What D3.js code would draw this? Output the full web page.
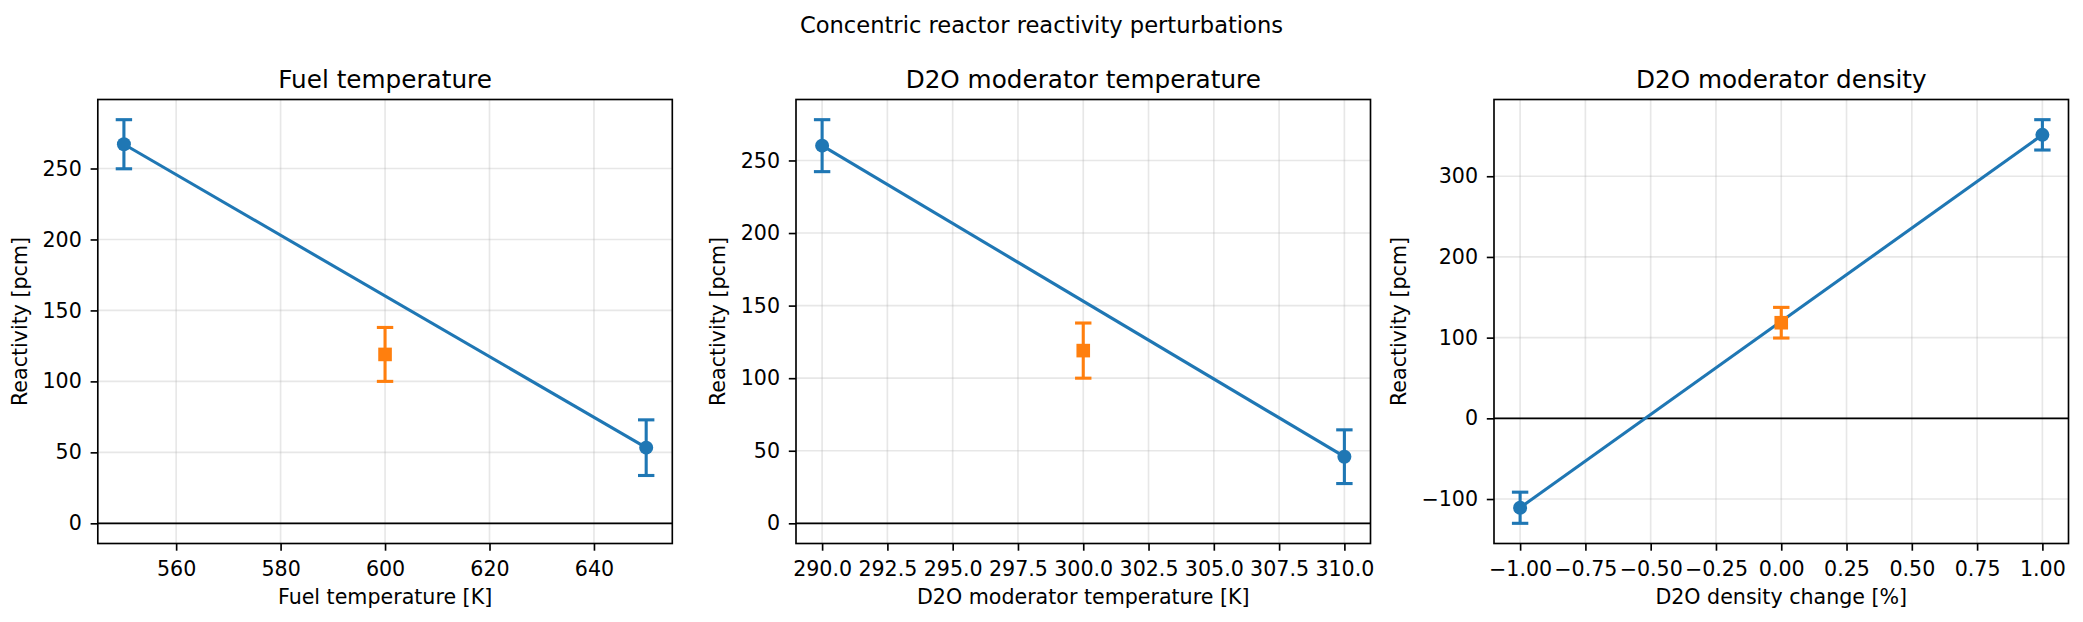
<!DOCTYPE html>
<html>
<head>
<meta charset="utf-8">
<script src="https://cdn.jsdelivr.net/npm/d3@7"></script>
<style>
  html, body { margin: 0; padding: 0; background: #fff; }
  svg { display: block; font-family: "DejaVu Sans", sans-serif; }
</style>
</head>
<body>
<svg id="chart" width="2083" height="622"></svg>
<script>
// ---- data ----
const suptitle = "Concentric reactor reactivity perturbations";
const titles = ["Fuel temperature", "D2O moderator temperature", "D2O moderator density"];
const xLabels = ["Fuel temperature [K]", "D2O moderator temperature [K]", "D2O density change [%]"];
const yLabel = "Reactivity [pcm]";

const fuelX = [550, 650];
const fuelY = [267.1, 53.3];
const fuelErr = [17.3, 19.6];

const modTempX = [290, 310];
const modTempY = [260.2, 45.9];
const modTempErr = [17.9, 18.5];

const densX = [-1, 1];
const densY = [-110.8, 351.3];
const densErr = [19.3, 18.8];

const refX = [600, 300, 0];
const refY = [119, 119, 118.5];
const refErr = [19, 19, 19];

const xTicks = [
  [560, 580, 600, 620, 640],
  [290, 292.5, 295, 297.5, 300, 302.5, 305, 307.5, 310],
  [-1, -0.75, -0.5, -0.25, 0, 0.25, 0.5, 0.75, 1]
];
const xTickFormats = ["d", ".1f", ".2f"];
const yTicks = [
  [0, 50, 100, 150, 200, 250],
  [0, 50, 100, 150, 200, 250],
  [-100, 0, 100, 200, 300]
];

const series = [
  {x: fuelX, y: fuelY, e: fuelErr},
  {x: modTempX, y: modTempY, e: modTempErr},
  {x: densX, y: densY, e: densErr}
];

// ---- layout ----
const svg = d3.select("#chart");
const blue = "#1f77b4", orange = "#ff7f0e";
const axLeft = [97.8, 796, 1494];
const axW = 574.5;
const axTop = 99.5, axBottom = 543.5;
const tickFont = 20.6, titleFont = 24.7, supFont = 22.6;
const tickLen = 7.2;

svg.append("text")
  .attr("x", 1041.5).attr("y", 33.3)
  .attr("text-anchor", "middle")
  .attr("font-size", supFont)
  .attr("fill", "#000")
  .text(suptitle);

function padDomain(lo, hi) {
  const r = hi - lo;
  return [lo - 0.05 * r, hi + 0.05 * r];
}

for (let i = 0; i < 3; i++) {
  const s = series[i];
  const xs = s.x.concat([refX[i]]);
  const ylo = d3.min(s.y.map((v, j) => v - s.e[j]).concat([refY[i] - refErr[i], 0]));
  const yhi = d3.max(s.y.map((v, j) => v + s.e[j]).concat([refY[i] + refErr[i], 0]));
  const x = d3.scaleLinear().domain(padDomain(d3.min(xs), d3.max(xs)))
    .range([axLeft[i], axLeft[i] + axW]);
  const y = d3.scaleLinear().domain(padDomain(ylo, yhi)).range([axBottom, axTop]);

  const g = svg.append("g");

  // clip
  const clipId = "clip" + i;
  svg.append("clipPath").attr("id", clipId).append("rect")
    .attr("x", axLeft[i]).attr("y", axTop).attr("width", axW).attr("height", axBottom - axTop);

  // grid
  const grid = g.append("g").attr("clip-path", `url(#${clipId})`);
  grid.selectAll("line.gx").data(xTicks[i]).enter().append("line")
    .attr("x1", d => x(d)).attr("x2", d => x(d))
    .attr("y1", axTop).attr("y2", axBottom)
    .attr("stroke", "#b0b0b0").attr("stroke-opacity", 0.3).attr("stroke-width", 1.65);
  grid.selectAll("line.gy").data(yTicks[i]).enter().append("line")
    .attr("x1", axLeft[i]).attr("x2", axLeft[i] + axW)
    .attr("y1", d => y(d)).attr("y2", d => y(d))
    .attr("stroke", "#b0b0b0").attr("stroke-opacity", 0.3).attr("stroke-width", 1.65);

  // zero line
  g.append("line")
    .attr("x1", axLeft[i]).attr("x2", axLeft[i] + axW)
    .attr("y1", y(0)).attr("y2", y(0))
    .attr("stroke", "#000").attr("stroke-width", 1.8);

  // blue line
  g.append("path")
    .datum(s.x.map((v, j) => [v, s.y[j]]))
    .attr("d", d3.line().x(d => x(d[0])).y(d => y(d[1])))
    .attr("fill", "none").attr("stroke", blue).attr("stroke-width", 3.1);

  // blue error bars
  const eb = g.append("g").attr("stroke", blue).attr("stroke-width", 3.1);
  s.x.forEach((v, j) => {
    const cx = x(v), yt = y(s.y[j] + s.e[j]), yb = y(s.y[j] - s.e[j]);
    eb.append("line").attr("x1", cx).attr("x2", cx).attr("y1", yt).attr("y2", yb);
    eb.append("line").attr("x1", cx - 8.2).attr("x2", cx + 8.2).attr("y1", yt).attr("y2", yt);
    eb.append("line").attr("x1", cx - 8.2).attr("x2", cx + 8.2).attr("y1", yb).attr("y2", yb);
  });
  g.selectAll("circle.pt").data(s.x.map((v, j) => [v, s.y[j]])).enter().append("circle")
    .attr("cx", d => x(d[0])).attr("cy", d => y(d[1])).attr("r", 7)
    .attr("fill", blue);

  // orange reference
  const ob = g.append("g").attr("stroke", orange).attr("stroke-width", 3.1);
  const ox = x(refX[i]), oyt = y(refY[i] + refErr[i]), oyb = y(refY[i] - refErr[i]);
  ob.append("line").attr("x1", ox).attr("x2", ox).attr("y1", oyt).attr("y2", oyb);
  ob.append("line").attr("x1", ox - 8.2).attr("x2", ox + 8.2).attr("y1", oyt).attr("y2", oyt);
  ob.append("line").attr("x1", ox - 8.2).attr("x2", ox + 8.2).attr("y1", oyb).attr("y2", oyb);
  const sq = 13.6;
  g.append("rect")
    .attr("x", ox - sq / 2).attr("y", y(refY[i]) - sq / 2)
    .attr("width", sq).attr("height", sq).attr("fill", orange);

  // axes
  const xAxis = d3.axisBottom(x).tickValues(xTicks[i]).tickFormat(d3.format(xTickFormats[i]))
    .tickSize(tickLen).tickPadding(10.7);
  const xg = svg.append("g").attr("transform", `translate(0,${axBottom})`).call(xAxis);
  xg.select(".domain").remove();
  xg.selectAll("line").attr("stroke", "#000").attr("stroke-width", 1.65);
  xg.selectAll("text").attr("font-size", tickFont).attr("fill", "#000")
    .attr("font-family", "DejaVu Sans");

  const yAxis = d3.axisLeft(y).tickValues(yTicks[i]).tickFormat(d3.format("d"))
    .tickSize(tickLen).tickPadding(8.8);
  const yg = svg.append("g").attr("transform", `translate(${axLeft[i]},0)`).call(yAxis);
  yg.select(".domain").remove();
  yg.selectAll("line").attr("stroke", "#000").attr("stroke-width", 1.65);
  yg.selectAll("text").attr("font-size", tickFont).attr("fill", "#000")
    .attr("font-family", "DejaVu Sans");

  // spines
  svg.append("rect")
    .attr("x", axLeft[i]).attr("y", axTop).attr("width", axW).attr("height", axBottom - axTop)
    .attr("fill", "none").attr("stroke", "#000").attr("stroke-width", 1.65);

  // labels
  svg.append("text")
    .attr("x", axLeft[i] + axW / 2).attr("y", 604.3)
    .attr("text-anchor", "middle").attr("font-size", tickFont).attr("fill", "#000")
    .text(xLabels[i]);

  let minX = Infinity;
  yg.selectAll("text").each(function() {
    const b = this.getBoundingClientRect();
    if (b.left < minX) minX = b.left;
  });
  const lx = minX - 15.8;
  svg.append("text")
    .attr("transform", `translate(${lx},${(axTop + axBottom) / 2}) rotate(-90)`)
    .attr("text-anchor", "middle").attr("font-size", tickFont).attr("fill", "#000")
    .text(yLabel);

  svg.append("text")
    .attr("x", axLeft[i] + axW / 2).attr("y", 88.3)
    .attr("text-anchor", "middle").attr("font-size", titleFont).attr("fill", "#000")
    .text(titles[i]);
}
</script>
</body>
</html>
